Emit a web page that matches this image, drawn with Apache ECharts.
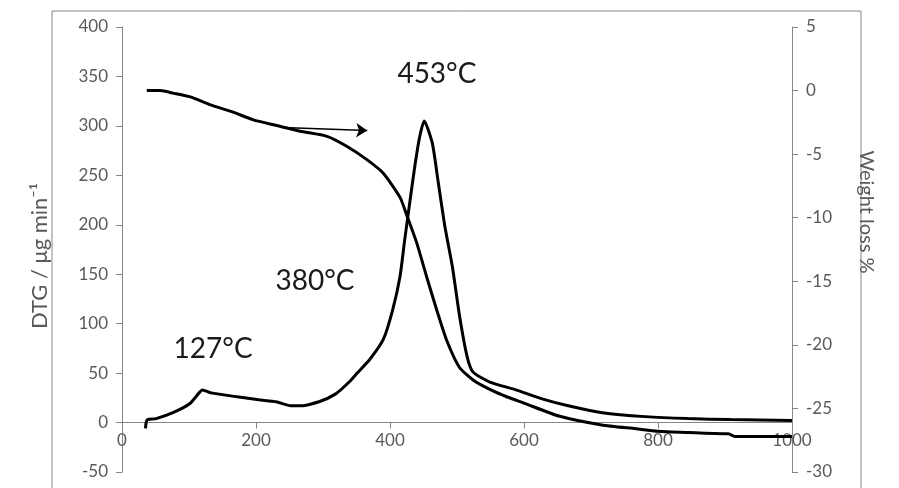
<!DOCTYPE html>
<html>
<head>
<meta charset="utf-8">
<script src="https://cdn.jsdelivr.net/npm/echarts@6/dist/echarts.min.js"></script>
<style>
html,body{margin:0;padding:0;background:#fff;}
#chart{width:899px;height:488px;}
</style>
</head>
<body>
<div id="chart"></div>
<script>
// Temperature (°C) and DTG (µg/min)
const dtgTemp = [35, 36, 38, 51, 76, 101, 115, 120, 125, 133, 172, 204, 230, 252, 268, 294, 319, 339, 351, 370, 390, 404, 415, 422, 430, 437, 444, 451, 463, 472, 482, 493, 504, 515, 524, 549, 588, 627, 666, 717, 781, 845, 909, 1000];
const dtgVal  = [-6, 0, 3, 4, 10, 19, 30, 33, 32, 30, 26, 23, 21, 17, 17, 21, 29, 41, 50, 64, 84, 114, 148, 185, 225, 259, 288, 305, 283, 243, 198, 158, 107, 67, 51, 41, 33, 24, 17, 10, 6, 4, 3, 2];
// Temperature (°C) and weight loss (%)
const wtTemp = [37, 57, 76, 102, 131, 166, 196, 231, 266, 306, 336, 366, 390, 415, 425, 440, 455, 470, 485, 504, 525, 549, 575, 601, 652, 716, 767, 800, 845, 905, 915, 1000];
const wtVal  = [0, 0, -0.2, -0.5, -1.1, -1.7, -2.3, -2.75, -3.2, -3.6, -4.4, -5.45, -6.5, -8.4, -9.8, -12.0, -14.7, -17.3, -19.7, -21.8, -22.8, -23.5, -24.1, -24.6, -25.6, -26.3, -26.6, -26.8, -26.9, -27.0, -27.2, -27.2];
// Axis ranges [min, max, interval]
const xRange = [0, 1000, 200];
const dtgRange = [-50, 400, 50];
const wtRange = [-30, 5, 5];
// Annotations: [temperature, DTG-position, text]
const annotations = [[470, 352, '453°C'], [288, 143, '380°C'], [136, 74, '127°C']];
const arrowFrom = [240, -2.9], arrowTo = [366, -3.15];

const axisGray = '#868686', labelGray = '#595959';
const FONT = 'Lato';
const W = 899, H = 488;
const gridBox = {left: 122, right: 107, top: 27, bottom: 16};
const plotH = H - gridBox.top - gridBox.bottom;
// x axis sits at DTG = 0
const xAxisOffset = -plotH * (0 - dtgRange[0]) / (dtgRange[1] - dtgRange[0]);

const chart = echarts.init(document.getElementById('chart'));
chart.setOption({
  animation: false,
  textStyle: {fontFamily: FONT},
  grid: Object.assign({outerBoundsMode: 'none', containLabel: false}, gridBox),
  graphic: [{
    type: 'rect', shape: {x: 52, y: 11, width: 809, height: 490},
    style: {fill: 'none', stroke: axisGray, lineWidth: 1}, silent: true, z: -1
  }, {
    type: 'text', x: 866, y: 212, rotation: -Math.PI / 2,
    style: {text: 'Weight loss %', font: '20px ' + FONT, fill: labelGray, textAlign: 'center', textVerticalAlign: 'middle'}
  }, {
    type: 'text', x: 40, y: 256, rotation: Math.PI / 2,
    style: {text: 'DTG / μg min⁻¹', font: '22px ' + FONT, fill: labelGray, textAlign: 'center', textVerticalAlign: 'middle'}
  }],
  xAxis: {
    type: 'value', min: xRange[0], max: xRange[1], interval: xRange[2],
    offset: xAxisOffset,
    axisLine: {onZero: false, lineStyle: {color: axisGray}},
    axisTick: {show: true, length: 6, lineStyle: {color: axisGray}},
    axisLabel: {color: labelGray, fontSize: 17, margin: 9, fontFamily: FONT, formatter: v => String(v)},
    splitLine: {show: false}
  },
  yAxis: [{
    type: 'value', min: dtgRange[0], max: dtgRange[1], interval: dtgRange[2],
    axisLine: {show: true, onZero: false, lineStyle: {color: axisGray}},
    axisTick: {show: true, length: 6, lineStyle: {color: axisGray}},
    axisLabel: {color: labelGray, fontSize: 17, margin: 14, fontFamily: FONT},
    splitLine: {show: false}
  }, {
    type: 'value', min: wtRange[0], max: wtRange[1], interval: wtRange[2], position: 'right',
    axisLine: {show: true, onZero: false, lineStyle: {color: axisGray}},
    axisTick: {show: true, length: 6, lineStyle: {color: axisGray}},
    axisLabel: {color: labelGray, fontSize: 17, margin: 14, fontFamily: FONT},
    splitLine: {show: false}
  }],
  series: [{
    name: 'DTG', type: 'line', yAxisIndex: 0,
    data: dtgTemp.map((t, i) => [t, dtgVal[i]]),
    showSymbol: false, smooth: 0.2,
    lineStyle: {color: '#000', width: 3},
    markPoint: {
      symbol: 'circle', symbolSize: 0,
      label: {show: true, position: 'inside', color: '#1a1a1a', fontSize: 28, fontFamily: FONT, formatter: p => p.data.value},
      data: annotations.map(a => ({coord: [a[0], a[1]], value: a[2]}))
    }
  }, {
    name: 'Weight loss', type: 'line', yAxisIndex: 1,
    data: wtTemp.map((t, i) => [t, wtVal[i]]),
    showSymbol: false, smooth: 0.2,
    lineStyle: {color: '#000', width: 3},
    markLine: {
      silent: true, symbol: ['none', 'arrow'], symbolSize: 11,
      lineStyle: {color: '#000', width: 1.5, type: 'solid'},
      label: {show: false},
      data: [[{coord: arrowFrom}, {coord: arrowTo}]]
    }
  }]
});
</script>
</body>
</html>
